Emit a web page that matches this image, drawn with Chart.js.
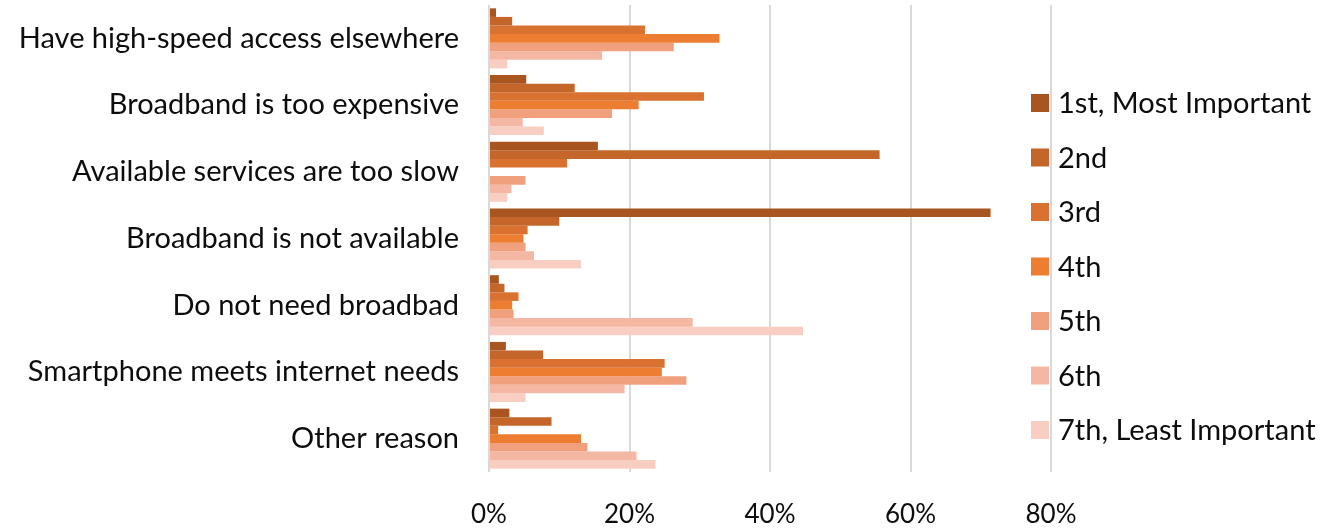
<!DOCTYPE html>
<html>
<head>
<meta charset="utf-8">
<script src="https://cdn.jsdelivr.net/npm/chart.js@4.4.0/dist/chart.umd.min.js"></script>
<style>
    body { margin: 0; background: #fff; }
    #wrap { width: 1343px; height: 529px; position: relative; }
</style>
</head>
<body>
<div id="wrap"><canvas id="rankChart"></canvas></div>
<script>
// Reasons for not having home broadband, share ranking each reason (%)
const reasons = [
    'Have high-speed access elsewhere',
    'Broadband is too expensive',
    'Available services are too slow',
    'Broadband is not available',
    'Do not need broadbad',
    'Smartphone meets internet needs',
    'Other reason'
];

const rankLabels = ['1st, Most Important', '2nd', '3rd', '4th', '5th', '6th', '7th, Least Important'];

const rank1 = [1.0, 5.3, 15.5, 71.4, 1.4, 2.4, 2.9];
const rank2 = [3.3, 12.2, 55.6, 10.0, 2.2, 7.7, 8.9];
const rank3 = [22.2, 30.6, 11.1, 5.5, 4.2, 25.0, 1.3];
const rank4 = [32.8, 21.3, 0, 4.9, 3.3, 24.6, 13.1];
const rank5 = [26.3, 17.5, 5.2, 5.2, 3.5, 28.1, 14.0];
const rank6 = [16.1, 4.8, 3.2, 6.4, 29.0, 19.3, 21.0];
const rank7 = [2.6, 7.8, 2.6, 13.1, 44.7, 5.2, 23.7];

const xTicks = [0, 20, 40, 60, 80];

const rankColors = ['#A85520', '#C4652A', '#D97230', '#ED7D31', '#F1A07E', '#F4B7A3', '#F8CDC2'];
const allRanks = [rank1, rank2, rank3, rank4, rank5, rank6, rank7];

const FONT = 'Lato, "Open Sans", sans-serif';

// Legend is drawn by hand so it can sit over the right edge of the plot like the original
const sideLegend = {
    id: 'sideLegend',
    afterDraw(chart) {
        const ctx = chart.ctx;
        ctx.save();
        ctx.font = '29px ' + FONT;
        ctx.textBaseline = 'middle';
        ctx.textAlign = 'left';
        chart.data.datasets.forEach((ds, i) => {
            const cy = 103 + i * 54.5;
            ctx.fillStyle = ds.backgroundColor;
            ctx.fillRect(1031, cy - 9, 18, 18);
            ctx.fillStyle = '#0d0d0d';
            ctx.fillText(ds.label, 1058, cy + 1);
        });
        ctx.restore();
    }
};

new Chart(document.getElementById('rankChart'), {
    type: 'bar',
    data: {
        labels: reasons,
        datasets: allRanks.map((vals, i) => ({
            label: rankLabels[i],
            data: vals,
            backgroundColor: rankColors[i],
            borderWidth: 0,
            categoryPercentage: 0.9,
            barPercentage: 1.0
        }))
    },
    options: {
        indexAxis: 'y',
        responsive: true,
        maintainAspectRatio: false,
        animation: false,
        layout: { padding: { top: 5, right: 292, left: 0, bottom: 0 } },
        plugins: {
            legend: { display: false },
            tooltip: { enabled: false }
        },
        scales: {
            x: {
                min: 0,
                max: 80,
                afterBuildTicks: axis => { axis.ticks = xTicks.map(v => ({ value: v })); },
                afterFit: axis => { axis.height = 57; },
                grid: { color: '#d9d9d9', lineWidth: 2, drawTicks: false },
                border: { display: false },
                ticks: {
                    padding: 27,
                    color: '#0d0d0d',
                    font: { family: FONT, size: 26 },
                    callback: v => v + '%'
                }
            },
            y: {
                afterFit: axis => {
                    axis.width = 489;
                    axis.paddingTop = 0;
                    axis.paddingBottom = 0;
                },
                grid: { display: false, drawTicks: false },
                border: { display: false },
                ticks: {
                    padding: 30,
                    color: '#0d0d0d',
                    font: { family: FONT, size: 29 }
                }
            }
        }
    },
    plugins: [sideLegend]
});
</script>
</body>
</html>
